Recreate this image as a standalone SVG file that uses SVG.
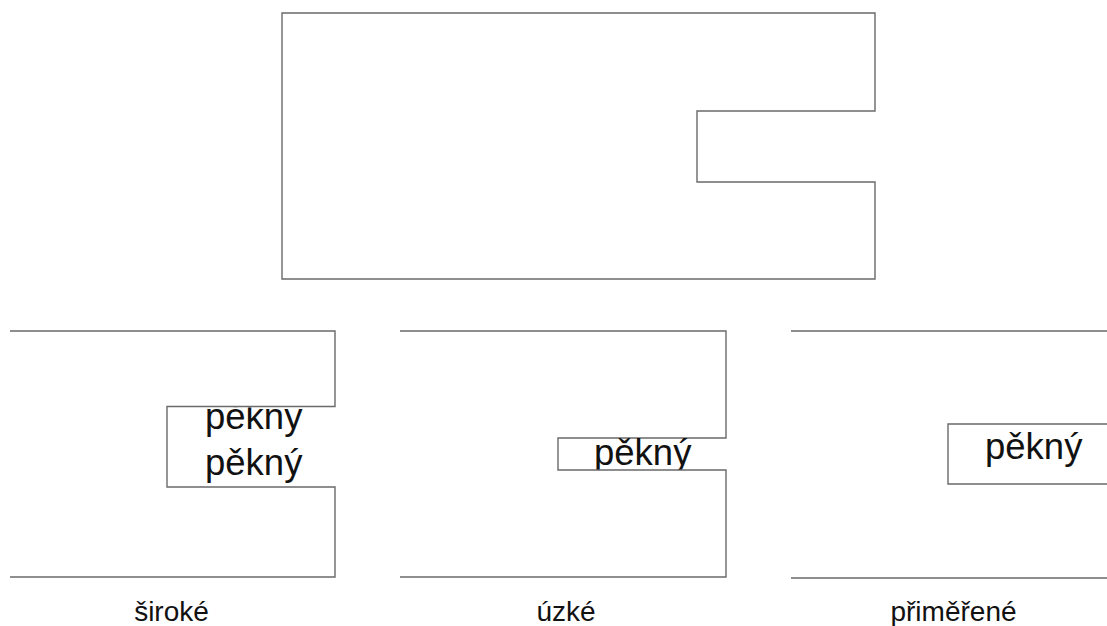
<svg xmlns="http://www.w3.org/2000/svg" width="1107" height="626" viewBox="0 0 1107 626">
<style>
.ln{fill:none;stroke:#6a6a6a;stroke-width:1.4}
.big{font-family:"Liberation Sans",Arial,sans-serif;font-size:36.5px;fill:#111}
.lbl{font-family:"Liberation Sans",Arial,sans-serif;font-size:28px;fill:#111;text-anchor:middle}
</style>
<defs>
<clipPath id="c1"><rect x="167" y="407.5" width="168" height="79.5"/></clipPath>
<clipPath id="c2"><rect x="558" y="438" width="168" height="31.5"/></clipPath>
</defs>
<rect width="1107" height="626" fill="#fff"/>
<g id="top">
<path class="ln" d="M282,13 H875 V111 H697 V182 H875 V279 H282 Z"/>
</g>
<g id="siroke">
<path class="ln" d="M10,331 H335 V406.5 H167 V487 H335 V577 H10"/>
<g clip-path="url(#c1)">
<text class="big" x="205" y="429">pěkný</text>
<text class="big" x="205" y="475">pěkný</text>
</g>
<text class="lbl" x="171.5" y="621">široké</text>
</g>
<g id="uzke">
<path class="ln" d="M400,331 H726 V438 H558 V470 H726 V577 H400"/>
<g clip-path="url(#c2)">
<text class="big" x="594" y="465">pěkný</text>
</g>
<text class="lbl" x="566" y="621">úzké</text>
</g>
<g id="primerene">
<path class="ln" d="M791,331 H1107 M791,578 H1107"/>
<path class="ln" d="M1107,424 H948 V484 H1107"/>
<text class="big" x="985" y="459">pěkný</text>
<text class="lbl" x="953.5" y="621">přiměřené</text>
</g>
<g id="connectors"/>
</svg>
